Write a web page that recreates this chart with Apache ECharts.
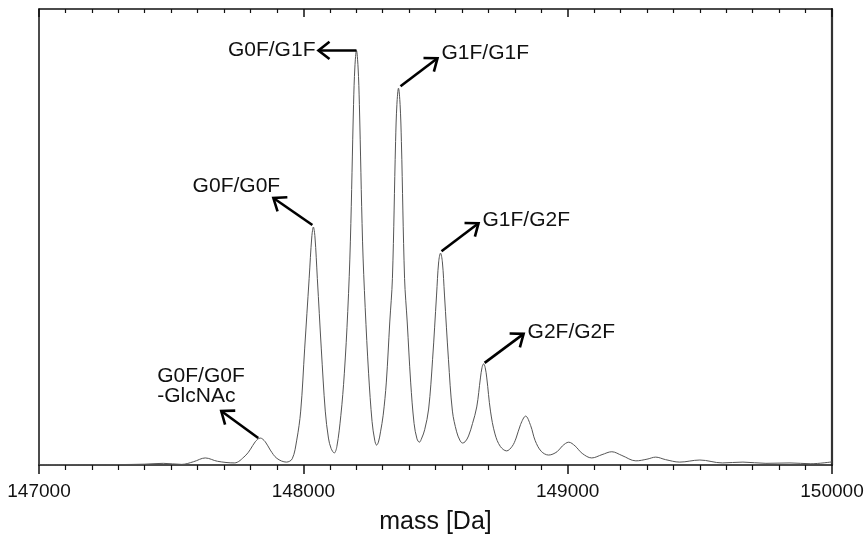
<!DOCTYPE html>
<html>
<head>
<meta charset="utf-8">
<script src="https://cdn.jsdelivr.net/npm/echarts/dist/echarts.min.js"></script>
<style>
  html, body { margin: 0; padding: 0; background: #fff; }
  #chart { width: 868px; height: 538px; }
</style>
</head>
<body>
<div id="chart"></div>
<script>
// Deconvoluted intact mass spectrum: mass (Da) vs relative intensity (%)
const massDa = [
  147000, 147100, 147200, 147300, 147400, 147470, 147540, 147585, 147629, 147675,
  147739, 147780, 147800, 147818, 147837, 147856, 147875, 147900, 147936, 147958,
  147975, 147990, 148005, 148022, 148032, 148038, 148044, 148053, 148068, 148083,
  148095, 148105, 148117, 148127, 148142, 148155, 148168, 148178, 148190,
  148195, 148201, 148207, 148212, 148224, 148234, 148247, 148260, 148270, 148277,
  148284, 148292, 148302, 148314, 148327, 148337, 148349, 148354, 148360, 148366,
  148371, 148383, 148393, 148406, 148419, 148430, 148439, 148448, 148459, 148474,
  148489, 148504, 148512, 148519, 148526, 148534, 148549, 148564, 148580, 148592,
  148602, 148612, 148625, 148640, 148656, 148670, 148676, 148682, 148688, 148694,
  148708, 148725, 148745, 148769, 148790, 148805, 148822, 148841, 148860, 148877,
  148900, 148928, 148960, 148980, 149004, 149028, 149055, 149091, 149130, 149167,
  149205, 149258, 149300, 149333, 149370, 149424, 149500, 149585, 149663, 149750,
  149841, 149920, 150000
];
const intensity = [
  0.1, 0.1, 0.05, 0.1, 0.2, 0.4, 0.15, 0.8, 1.7, 0.9,
  0.5, 2.2, 3.8, 5.6, 6.5, 5.6, 3.6, 1.6, 0.7, 1.5,
  6.0, 13, 28, 45, 55, 57.4, 55, 45, 28, 13,
  6.5, 4.0, 2.9, 4.5, 12, 22, 37, 54, 87,
  96, 100, 96, 87, 54, 38, 22, 10.5, 6, 4.8,
  5.5, 8, 12, 20, 34.5, 45, 78, 87, 90.9, 87,
  78, 45, 34.5, 20, 10, 6.3, 5.5, 6.5, 8.5, 13.5,
  25.5, 41, 49, 51.1, 49, 41, 25.5, 13, 8, 6,
  5.3, 5.6, 7, 10, 14, 21, 23.5, 24.4, 23.5, 21,
  13, 7.5, 4.5, 3.4, 4.5, 6.5, 9.8, 11.8, 9.5, 5.9,
  3.3, 2.4, 3.2, 4.6, 5.5, 4.6, 2.8, 1.7, 2.5, 3.2,
  2.3, 1.0, 1.4, 1.9, 1.3, 0.7, 1.2, 0.5, 0.7, 0.4,
  0.5, 0.3, 0.75
];

// Axis range and tick labels
const massMin = 147000;
const massMax = 150000;
const massStep = 1000;
const tickLabels = ['147000', '148000', '149000', '150000'];

// Glycoform annotations: label and the peak mass it points at
const glycoLabels = ['G0F/G0F\n-GlcNAc', 'G0F/G0F', 'G0F/G1F', 'G1F/G1F', 'G1F/G2F', 'G2F/G2F'];
const glycoMasses = [147837, 148038, 148201, 148360, 148519, 148682];

// Arrow / text placement around each labelled peak (pixel offsets)
const arrowStyle = [
  { start: [-2, 0],  vec: [-37, -27], text: [-64, -25], align: 'left'   },
  { start: [-1, -2], vec: [-39, -27], text: [-37, -12], align: 'center' },
  { start: [0, 0],   vec: [-38, 0],   text: [-3, 0],    align: 'right'  },
  { start: [2, -2],  vec: [37, -28],  text: [4, -5],    align: 'left'   },
  { start: [1, -2],  vec: [37, -28],  text: [4, -3],    align: 'left'   },
  { start: [1, -1],  vec: [39, -29],  text: [4, -2],    align: 'left'   }
];

const chart = echarts.init(document.getElementById('chart'), null, { renderer: 'canvas' });
const FONT = 'Liberation Sans, Arial, sans-serif';

const spectrum = massDa.map((m, i) => [m, intensity[i]]);

chart.setOption({
  animation: false,
  backgroundColor: '#ffffff',
  grid: { left: 39, right: 36, top: 9, bottom: 73, containLabel: false, outerBoundsMode: 'none' },
  xAxis: [
    {
      type: 'value', position: 'bottom',
      min: massMin, max: massMax, interval: massStep,
      name: 'mass [Da]', nameLocation: 'middle', nameGap: 45,
      nameTextStyle: { fontFamily: FONT, fontSize: 25, color: '#111' },
      axisLine: { show: true, onZero: false, lineStyle: { color: '#111', width: 1.5 } },
      axisTick: { show: true, inside: false, length: 9, lineStyle: { color: '#111', width: 1.5 } },
      minorTick: { show: true, splitNumber: 10, length: 5, lineStyle: { color: '#111', width: 1.2 } },
      axisLabel: {
        margin: 17, fontFamily: FONT, fontSize: 19, color: '#111',
        formatter: v => tickLabels[Math.round((v - massMin) / massStep)] || ''
      },
      splitLine: { show: false }
    },
    {
      type: 'value', position: 'top',
      min: massMin, max: massMax, interval: massStep,
      axisLine: { show: true, onZero: false, lineStyle: { color: '#111', width: 1.5 } },
      axisTick: { show: true, inside: true, length: 8, lineStyle: { color: '#111', width: 1.5 } },
      minorTick: { show: true, splitNumber: 10, length: 4, lineStyle: { color: '#111', width: 1.2 } },
      axisLabel: { show: false },
      splitLine: { show: false }
    }
  ],
  yAxis: [
    {
      type: 'value', position: 'left', min: 0, max: 110,
      axisLine: { show: true, onZero: false, lineStyle: { color: '#111', width: 1.5 } },
      axisTick: { show: false }, axisLabel: { show: false }, splitLine: { show: false }
    },
    {
      type: 'value', position: 'right', min: 0, max: 110,
      axisLine: { show: true, onZero: false, lineStyle: { color: '#333', width: 2.2 } },
      axisTick: { show: false }, axisLabel: { show: false }, splitLine: { show: false }
    }
  ],
  series: [
    {
      type: 'line',
      data: spectrum,
      smooth: 0.35,
      showSymbol: false,
      symbol: 'none',
      lineStyle: { color: '#555555', width: 1 },
      z: 2
    }
  ]
});

// Arrows and glycoform labels anchored to the peak tops
function peakIntensity(mass) {
  const i = massDa.indexOf(mass);
  return intensity[i];
}

const graphics = [];
glycoMasses.forEach((mass, k) => {
  const p = chart.convertToPixel({ xAxisIndex: 0, yAxisIndex: 0 }, [mass, peakIntensity(mass)]);
  const s = arrowStyle[k];
  const x0 = p[0] + s.start[0], y0 = p[1] + s.start[1];
  const x1 = x0 + s.vec[0], y1 = y0 + s.vec[1];
  const ang = Math.atan2(y0 - y1, x0 - x1);
  const arm = 14, spread = 38 * Math.PI / 180;
  const h1 = [x1 + arm * Math.cos(ang - spread), y1 + arm * Math.sin(ang - spread)];
  const h2 = [x1 + arm * Math.cos(ang + spread), y1 + arm * Math.sin(ang + spread)];
  graphics.push({
    type: 'line', z: 10,
    shape: { x1: x0, y1: y0, x2: x1, y2: y1 },
    style: { stroke: '#000', lineWidth: 2.6, lineCap: 'butt' }
  });
  graphics.push({
    type: 'polyline', z: 10,
    shape: { points: [h1, [x1, y1], h2] },
    style: { stroke: '#000', lineWidth: 2.6, fill: null, lineJoin: 'miter' }
  });
  graphics.push({
    type: 'text', z: 10,
    x: x1 + s.text[0], y: y1 + s.text[1],
    style: {
      text: glycoLabels[k],
      fontFamily: FONT, fontSize: 21, fill: '#111',
      align: s.align, verticalAlign: 'middle', lineHeight: 20
    }
  });
});
chart.setOption({ graphic: graphics });
</script>
</body>
</html>
